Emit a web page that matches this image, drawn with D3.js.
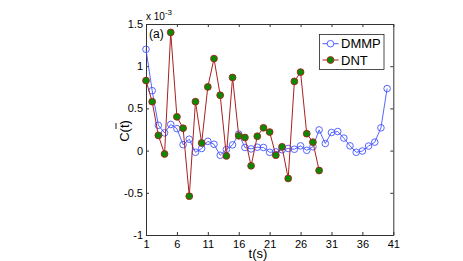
<!DOCTYPE html>
<html><head><meta charset="utf-8">
<script src="https://cdn.jsdelivr.net/npm/d3@7"></script>
<style>body{margin:0;background:#fff;} svg{display:block;font-family:"Liberation Sans",Arial,sans-serif;}</style>
</head><body><svg id="c" width="463" height="261"></svg>
<script>
const dmmpT = d3.range(1, 41);
const dmmp = [1.20,0.71,0.30,0.21,0.31,0.26,0.07,0.135,-0.02,0.025,0.11,0.075,-0.055,0.013,0.068,0.195,0.037,0.02,0.04,0.037,-0.02,-0.015,0.01,0.025,0.016,0.056,0.003,0.045,0.245,0.084,0.214,0.226,0.148,0.056,-0.02,-0.005,0.054,0.10,0.27,0.735];
const dntT = d3.range(1, 30);
const dnt = [0.83,0.58,0.18,-0.04,1.40,0.40,0.265,-0.54,0.58,0.09,0.755,1.09,0.656,-0.063,0.866,0.175,0.155,-0.18,0.17,0.27,0.22,-0.055,0.045,-0.33,0.82,0.93,0.20,0.10,-0.236];
const xTicks = [1,6,11,16,21,26,31,36,41];
const yTicks = [-1,-0.5,0,0.5,1,1.5];
const seriesNames = ["DMMP","DNT"];

const svg = d3.select("#c");
const L=146, R=393.3, T=24, B=235;
const x = d3.scaleLinear().domain([1,41]).range([L,R]);
const y = d3.scaleLinear().domain([-1,1.5]).range([B,T]);

svg.append("rect").attr("x",L).attr("y",T).attr("width",R-L).attr("height",B-T).attr("fill","#fff");

function yLab(d){ if(d===0) return "0"; return (d<0?"-":"")+String(Math.abs(d)); }

const gb = svg.append("g").attr("transform",`translate(0,${B})`)
  .call(d3.axisBottom(x).tickValues(xTicks).tickSizeInner(-3).tickSizeOuter(0).tickPadding(5));
const gt = svg.append("g").attr("transform",`translate(0,${T})`)
  .call(d3.axisTop(x).tickValues(xTicks).tickSizeInner(-3).tickSizeOuter(0).tickFormat(""));
const gl = svg.append("g").attr("transform",`translate(${L},0)`)
  .call(d3.axisLeft(y).tickValues(yTicks).tickSizeInner(-3).tickSizeOuter(0).tickPadding(3).tickFormat(yLab));
const gr = svg.append("g").attr("transform",`translate(${R},0)`)
  .call(d3.axisRight(y).tickValues(yTicks).tickSizeInner(-3).tickSizeOuter(0).tickFormat(""));
[gb,gt,gl,gr].forEach(g=>{
  g.selectAll("path").attr("stroke","#333").attr("stroke-width",1);
  g.selectAll("line").attr("stroke","#333");
  g.selectAll("text").attr("font-size",11).attr("fill","#000").attr("font-family","Liberation Sans, Arial, sans-serif");
});

const line = d3.line().x(d=>x(d[0])).y(d=>y(d[1]));
const dmmpData = dmmpT.map((t,i)=>[t,dmmp[i]]);
const dntData = dntT.map((t,i)=>[t,dnt[i]]);
const blue="#4455ff", red="#a82020";
svg.append("path").datum(dmmpData).attr("d",line).attr("fill","none").attr("stroke",blue).attr("stroke-width",0.9);
svg.selectAll(".bm").data(dmmpData).enter().append("circle").attr("cx",d=>x(d[0])).attr("cy",d=>y(d[1]))
  .attr("r",3.3).attr("fill","none").attr("stroke",blue).attr("stroke-width",0.9);
svg.append("path").datum(dntData).attr("d",line).attr("fill","none").attr("stroke",red).attr("stroke-width",1);
svg.selectAll(".gm").data(dntData).enter().append("circle").attr("cx",d=>x(d[0])).attr("cy",d=>y(d[1]))
  .attr("r",3.4).attr("fill","#0a8a00").attr("stroke",red).attr("stroke-width",0.9);

const lg = svg.append("g");
lg.append("rect").attr("x",319.5).attr("y",34.5).attr("width",64.5).attr("height",35).attr("fill","#fff").attr("stroke","#222").attr("stroke-width",0.8);
const ly=[43.7,60];
lg.append("line").attr("x1",322.5).attr("x2",338.5).attr("y1",ly[0]).attr("y2",ly[0]).attr("stroke",blue);
lg.append("circle").attr("cx",330.5).attr("cy",ly[0]).attr("r",3.3).attr("fill","#fff").attr("stroke",blue).attr("stroke-width",0.9);
lg.append("line").attr("x1",322.5).attr("x2",338.5).attr("y1",ly[1]).attr("y2",ly[1]).attr("stroke",red);
lg.append("circle").attr("cx",330.5).attr("cy",ly[1]).attr("r",3.4).attr("fill","#0a8a00").attr("stroke",red).attr("stroke-width",0.9);
seriesNames.forEach((n,i)=>lg.append("text").attr("x",341).attr("y",ly[i]+4.6).attr("font-size",13).text(n));

svg.append("text").attr("x",149).attr("y",38).attr("font-size",12).text("(a)");
const ex = svg.append("text").attr("x",146).attr("y",20).attr("font-size",10);
ex.append("tspan").text("x 10");
ex.append("tspan").attr("dy",-5).attr("font-size",8).text("-3");
svg.append("text").attr("x",258).attr("y",258).attr("text-anchor","middle").attr("font-size",13).text("t(s)");
svg.append("text").attr("transform","translate(129,131) rotate(-90)").attr("text-anchor","middle").attr("font-size",13).text("C(t)");
svg.append("line").attr("x1",116).attr("x2",116).attr("y1",123).attr("y2",129).attr("stroke","#000").attr("stroke-width",0.9);
</script></body></html>
